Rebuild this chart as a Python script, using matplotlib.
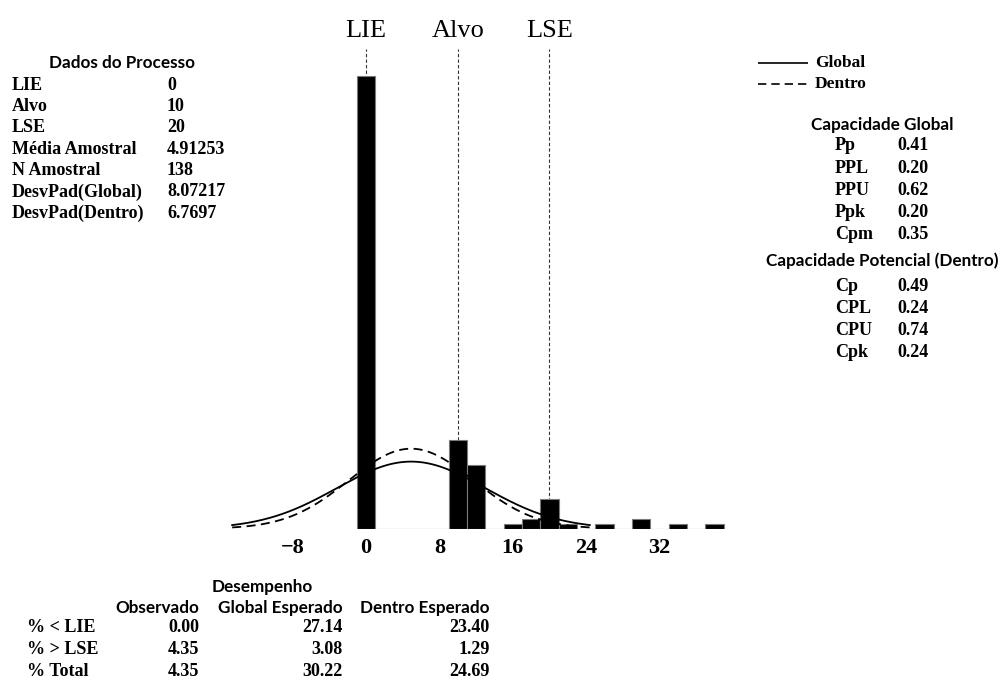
import numpy as np
import matplotlib
matplotlib.use('Agg')
import matplotlib.pyplot as plt

# histogram data (bins of width 2, centred on even values)
bin_centers = np.arange(0, 40, 2)
counts = [92, 0, 0, 0, 0, 18, 13, 0, 1, 2, 6, 1, 0, 1, 0, 2, 0, 1, 0, 1]

lie, alvo, lse = 0, 10, 20
media = 4.91253
n_amostral = 138
sd_global = 8.07217
sd_dentro = 6.7697

dados_labels = ['LIE', 'Alvo', 'LSE', 'Média Amostral', 'N Amostral',
                'DesvPad(Global)', 'DesvPad(Dentro)']
dados_values = ['0', '10', '20', '4.91253', '138', '8.07217', '6.7697']

glob_labels = ['Pp', 'PPL', 'PPU', 'Ppk', 'Cpm']
glob_values = ['0.41', '0.20', '0.62', '0.20', '0.35']
pot_labels = ['Cp', 'CPL', 'CPU', 'Cpk']
pot_values = ['0.49', '0.24', '0.74', '0.24']

perf_rows = ['% < LIE', '% > LSE', '% Total']
perf_cols = ['Observado', 'Global Esperado', 'Dentro Esperado']
perf_obs = ['0.00', '4.35', '4.35']
perf_glob = ['27.14', '3.08', '30.22']
perf_dentro = ['23.40', '1.29', '24.69']

W, H = 1001, 680
SERIF = 'Liberation Serif'
SANS = 'Lato'
SANS_SIZE = 12.3

fig = plt.figure(figsize=(W / 100, H / 100), dpi=100)


def px(x, y):
    return x / W, 1 - y / H


ax = fig.add_axes([223.9 / W, (H - 528.7) / H, 504.35 / W, 479.7 / H])
ax.bar(bin_centers, counts, width=2, color='black', edgecolor='#7a7a7a',
       linewidth=0.8, zorder=2)

xs = np.linspace(-14.6, 24.4, 400)
for sd, ls in [(sd_global, '-'), (sd_dentro, (0, (5, 3)))]:
    ys = n_amostral * 2 / (sd * np.sqrt(2 * np.pi)) * np.exp(-0.5 * ((xs - media) / sd) ** 2)
    ax.plot(xs, ys, color='black', linestyle=ls, linewidth=1.3, zorder=3)

for v in [lie, alvo, lse]:
    ax.axvline(v, color='#333333', linestyle=(0, (3, 2)), linewidth=0.8, zorder=1)

ax.set_xlim(-15.5, 39.5)
ax.set_ylim(0, 97.5)
ax.set_xticks([-8, 0, 8, 16, 24, 32])
ax.set_yticks([])
ax.tick_params(axis='x', length=0, pad=7)
for lab in ax.get_xticklabels():
    lab.set_fontfamily(SERIF)
    lab.set_fontweight('bold')
    lab.set_fontsize(16)
for s in ax.spines.values():
    s.set_visible(False)

# spec limit labels on top
for v, t in zip([lie, alvo, lse], ['LIE', 'Alvo', 'LSE']):
    ax.text(v, 1 + (49 - 31) / 479.7, t, transform=ax.get_xaxis_transform(),
            ha='center', va='center', fontsize=19, family=SERIF)

# left panel
fig.text(*px(122, 63), 'Dados do Processo', ha='center', va='center',
         family=SANS, weight='bold', fontsize=SANS_SIZE)
for i, (lab, val) in enumerate(zip(dados_labels, dados_values)):
    y = 85 + i * 21.4
    fig.text(*px(12, y), lab, ha='left', va='center', family=SERIF,
             weight='bold', fontsize=13)
    fig.text(*px(167, y), val, ha='left', va='center', family=SERIF,
             weight='bold', fontsize=13)

# legend
lg = fig.add_axes([758 / W, 1 - 95 / H, 50 / W, 42 / H])
lg.set_xlim(0, 1)
lg.set_ylim(0, 1)
lg.axis('off')
lg.plot([0, 1], [0.76, 0.76], color='black', linewidth=1.2)
lg.plot([0, 1], [0.26, 0.26], color='black', linewidth=1.2, linestyle=(0, (5, 3)))
fig.text(*px(815, 63), 'Global', ha='left', va='center', family=SERIF,
         weight='bold', fontsize=12.5)
fig.text(*px(815, 84), 'Dentro', ha='left', va='center', family=SERIF,
         weight='bold', fontsize=12.5)

# right panel
fig.text(*px(882, 125), 'Capacidade Global', ha='center', va='center',
         family=SANS, weight='bold', fontsize=SANS_SIZE)
for i, (lab, val) in enumerate(zip(glob_labels, glob_values)):
    y = 146 + i * 22.2
    fig.text(*px(835, y), lab, ha='left', va='center', family=SERIF,
             weight='bold', fontsize=13)
    fig.text(*px(897, y), val, ha='left', va='center', family=SERIF,
             weight='bold', fontsize=13)
fig.text(*px(882, 261), 'Capacidade Potencial (Dentro)', ha='center',
         va='center', family=SANS, weight='bold', fontsize=SANS_SIZE)
for i, (lab, val) in enumerate(zip(pot_labels, pot_values)):
    y = 286 + i * 22.2
    fig.text(*px(835, y), lab, ha='left', va='center', family=SERIF,
             weight='bold', fontsize=13)
    fig.text(*px(897, y), val, ha='left', va='center', family=SERIF,
             weight='bold', fontsize=13)

# performance table
fig.text(*px(212, 587), 'Desempenho', ha='left', va='center', family=SANS,
         weight='bold', fontsize=SANS_SIZE)
col_right = [199, 343, 490]
for x, c in zip(col_right, perf_cols):
    fig.text(*px(x, 608), c, ha='right', va='center', family=SANS,
             weight='bold', fontsize=SANS_SIZE)
for i, row in enumerate(perf_rows):
    y = 628 + i * 22
    fig.text(*px(27, y), row, ha='left', va='center', family=SERIF,
             weight='bold', fontsize=13)
    for x, col in zip(col_right, [perf_obs, perf_glob, perf_dentro]):
        fig.text(*px(x, y), col[i], ha='right', va='center', family=SERIF,
                 weight='bold', fontsize=13)

fig.savefig('out.png', dpi=100)
